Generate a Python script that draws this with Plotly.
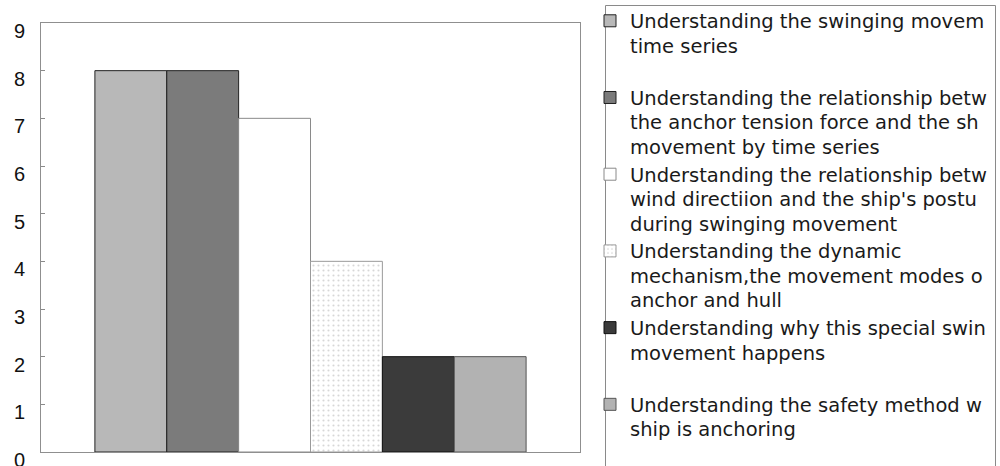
import plotly.graph_objects as go

# ---- data ----
category = ["Responses"]
series_labels = [
    ["Understanding the swinging movem", "time series", "\u00a0"],
    ["Understanding the relationship betw", "the anchor tension force and the sh", "movement by time series"],
    ["Understanding the relationship betw", "wind directiion and the ship's postu", "during swinging movement"],
    ["Understanding the dynamic", "mechanism,the movement modes o", "anchor and hull"],
    ["Understanding why this special swin", "movement happens", "\u00a0"],
    ["Understanding the safety method w", "ship is anchoring", "\u00a0"],
]
values = [8, 8, 7, 4, 2, 2]
y_ticks = [0, 1, 2, 3, 4, 5, 6, 7, 8, 9]

# ---- styles ----
fills = ["#b8b8b8", "#7b7b7b", "#ffffff", "#f5f5f5", "#3b3b3b", "#b2b2b2"]
outlines = ["#222222", "#222222", "#8a8a8a", "#9a9a9a", "#111111", "#555555"]

W, H = 1000, 466
# plot area in page pixels: x 41..580, y 23..452
ML, MT = 41, 23
MR = W - 580
MB = H - 452
plot_w = W - ML - MR
plot_h = H - MT - MB


def px_to_paper_x(px):
    return (px - ML) / plot_w


def px_to_paper_y(py):
    return (H - MB - py) / plot_h


def legend_name(lines):
    return "<br>".join("<span style='font-size:19.5px'>%s</span>" % ln for ln in lines)


fig = go.Figure()
for i, (lab, v) in enumerate(zip(series_labels, values)):
    marker = dict(color=fills[i], line=dict(color=outlines[i], width=1))
    if i == 3:
        marker["pattern"] = dict(shape=".", fgcolor="#b0b0b0", bgcolor="#ffffff",
                                 size=5, solidity=0.15)
    fig.add_trace(go.Bar(
        x=category, y=[v], name=legend_name(lab), marker=marker,
    ))

box_style = dict(type="line", xref="paper", yref="paper",
                 line=dict(color="#8a8a8a", width=1), layer="above")
bx0, bx1 = px_to_paper_x(605.5), px_to_paper_x(995.5)
by0, by1 = px_to_paper_y(470), px_to_paper_y(5.5)

fig.update_layout(
    width=W, height=H,
    margin=dict(l=ML, r=MR, t=MT, b=MB, pad=0, autoexpand=False),
    paper_bgcolor="white", plot_bgcolor="white",
    barmode="group", bargap=0.2, bargroupgap=0,
    font=dict(family="Liberation Sans, Arial, sans-serif", color="#111111"),
    showlegend=True,
    legend=dict(
        xref="paper", yref="paper",
        x=px_to_paper_x(590), y=px_to_paper_y(2), xanchor="left", yanchor="top",
        font=dict(size=18.9, color="#1a1a1a", family="DejaVu Sans, sans-serif"),
        valign="top", traceorder="normal", maxheight=600,
        bgcolor="rgba(0,0,0,0)", borderwidth=0,
    ),
    xaxis=dict(
        showticklabels=False, ticks="", showgrid=False, zeroline=False,
        showline=True, linecolor="#8f8f8f", linewidth=1, mirror=True,
        automargin=False,
    ),
    yaxis=dict(
        range=[0, 9], tickvals=y_ticks, ticktext=[str(t) for t in y_ticks],
        ticks="inside", ticklen=4, tickcolor="#8a8a8a",
        showgrid=False, zeroline=False,
        showline=True, linecolor="#8f8f8f", linewidth=1, mirror=True,
        tickfont=dict(size=20, color="#111111"),
        ticklabelstandoff=11, ticklabelshift=8, ticklabeloverflow="allow",
        automargin=False,
    ),
    shapes=[
        dict(box_style, x0=bx0, x1=bx0, y0=by0, y1=by1),
        dict(box_style, x0=bx1, x1=bx1, y0=by0, y1=by1),
        dict(box_style, x0=bx0, x1=bx1, y0=by1, y1=by1),
    ],
)

# remove the browser's default 8px page margin so the figure fills the window
fig.write_html(
    "out.html",
    config={"displayModeBar": False},
    post_script="document.body.style.margin='0';document.body.style.overflow='hidden';",
)
